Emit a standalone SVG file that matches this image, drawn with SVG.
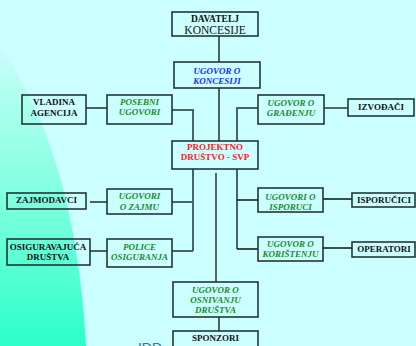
<svg xmlns="http://www.w3.org/2000/svg" width="416" height="346" viewBox="0 0 416 346">
<defs>
<linearGradient id="sw" x1="0" y1="48" x2="0" y2="346" gradientUnits="userSpaceOnUse">
<stop offset="0" stop-color="#c8fff8"/>
<stop offset="0.5" stop-color="#80ffe0"/>
<stop offset="1" stop-color="#2cffc8"/>
</linearGradient>
<style>
.box{fill:none;stroke:#243636;stroke-width:1.6}
.c{fill:none;stroke:#4a6262;stroke-width:2}
.k{fill:none;stroke:#111;stroke-width:1.3}
text{font-family:"Liberation Serif","DejaVu Serif",serif;font-size:9px;font-weight:bold;text-anchor:middle}
.p{fill:#111}
.g{fill:#1a8c2a;font-style:italic}
.b{fill:#1a2cff;font-style:italic}
.r{fill:#ff1a1a}
</style>
</defs>
<rect width="416" height="346" fill="#ccffff"/>
<path d="M0,48 Q75,150 86,346 L0,346 Z" fill="url(#sw)"/>
<text x="150" y="353" style="font-family:'Liberation Sans',Arial,sans-serif;font-weight:normal;font-size:14px;fill:#3366cc">IDD</text>
<g id="connectors">
<path class="c" d="M219,36 V62 M219,88 V141"/>
<path class="c" d="M86,108 H107"/>
<path class="c" d="M172,110 H193 V141"/>
<path class="c" d="M258,108 H237 V141"/>
<path class="k" d="M324,108 H348"/>
<path class="c" d="M193,169 V251 M172,202 H193 M172,251 H193"/>
<path class="c" d="M90,202 H107 M90,251 H107"/>
<path class="c" d="M237,169 V249"/>
<path class="k" d="M237,200 H258 M237,249 H258"/>
<path class="k" d="M323,199 H352 M323,248 H352"/>
<path class="k" d="M216,173 V282"/>
<path class="c" d="M219,317 V331"/>
</g>
<g id="davatelj"><rect class="box" x="172" y="12" width="86" height="24"/><text class="p" x="215" y="22" style="font-size:9.5px">DAVATELJ</text><text class="p" x="215" y="34.3" style="font-size:11.5px;font-weight:normal">KONCESIJE</text></g>
<g id="ugovor-koncesiji"><rect class="box" x="174" y="62" width="86" height="26"/><text class="b" x="217" y="73.5">UGOVOR O</text><text class="b" x="217" y="83.5">KONCESIJI</text></g>
<g id="vladina"><rect class="box" x="22" y="95" width="64" height="29"/><text class="p" x="54" y="105">VLADINA</text><text class="p" x="54" y="115.5">AGENCIJA</text></g>
<g id="posebni"><rect class="box" x="107" y="95" width="65" height="29"/><text class="g" x="139.5" y="104.5">POSEBNI</text><text class="g" x="139.5" y="115">UGOVORI</text></g>
<g id="gradenju"><rect class="box" x="258" y="95" width="66" height="29"/><text class="g" x="291" y="105.5">UGOVOR O</text><text class="g" x="291" y="116">GRAĐENJU</text></g>
<g id="izvodaci"><rect class="box" x="348" y="99" width="66" height="17"/><text class="p" x="381" y="110">IZVOĐAČI</text></g>
<g id="projektno"><rect class="box" x="172" y="141" width="86" height="28"/><text class="r" x="215" y="150">PROJEKTNO</text><text class="r" x="215" y="160">DRUŠTVO - SVP</text></g>
<g id="zajmodavci"><rect class="box" x="7" y="193" width="79" height="16"/><text class="p" x="46.5" y="203">ZAJMODAVCI</text></g>
<g id="zajmu"><rect class="box" x="107" y="189" width="65" height="25"/><text class="g" x="139.5" y="199">UGOVORI</text><text class="g" x="139.5" y="210">O ZAJMU</text></g>
<g id="isporuci"><rect class="box" x="258" y="188" width="65" height="24"/><text class="g" x="290.5" y="199.5">UGOVORI O</text><text class="g" x="290.5" y="210">ISPORUCI</text></g>
<g id="isporucici"><rect class="box" x="352" y="193" width="63" height="14"/><text class="p" x="384" y="203">ISPORUČICI</text></g>
<g id="osiguravajuca"><rect class="box" x="7" y="239" width="83" height="26"/><text class="p" x="48" y="250">OSIGURAVAJUĆA</text><text class="p" x="48" y="259.5">DRUŠTVA</text></g>
<g id="police"><rect class="box" x="107" y="239" width="65" height="28"/><text class="g" x="139.5" y="250">POLICE</text><text class="g" x="139.5" y="260">OSIGURANJA</text></g>
<g id="koristenju"><rect class="box" x="258" y="237" width="65" height="24"/><text class="g" x="290.5" y="246.5">UGOVOR O</text><text class="g" x="290.5" y="256.5">KORIŠTENJU</text></g>
<g id="operatori"><rect class="box" x="352" y="242" width="63" height="15"/><text class="p" x="384" y="252">OPERATORI</text></g>
<g id="osnivanju"><rect class="box" x="173" y="282" width="85" height="35"/><text class="g" x="215.5" y="292.5">UGOVOR O</text><text class="g" x="215.5" y="302.5">OSNIVANJU</text><text class="g" x="215.5" y="312.5">DRUŠTVA</text></g>
<g id="sponzori"><rect class="box" x="173" y="331" width="85" height="20"/><text class="p" x="215.5" y="341">SPONZORI</text></g>
</svg>
